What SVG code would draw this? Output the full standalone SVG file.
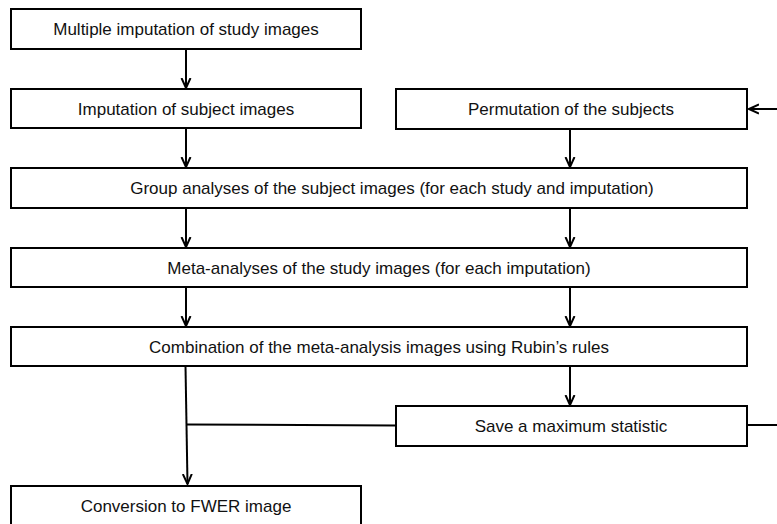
<svg xmlns="http://www.w3.org/2000/svg" width="777" height="524" viewBox="0 0 777 524">
<style>
.box{fill:#fff;stroke:#000;stroke-width:2}
.t{font-family:"Liberation Sans",Arial,sans-serif;font-size:17px;fill:#111;text-anchor:middle}
.c{stroke:#000;stroke-width:2;fill:none}
</style>
<defs>
<marker id="ah" markerWidth="12" markerHeight="12" viewBox="0 0 12 12" refX="10" refY="6" orient="auto" markerUnits="userSpaceOnUse">
<polyline points="0,1.5 10,6 0,10.5" fill="none" stroke="#000" stroke-width="2"/>
</marker>
</defs>
<rect width="777" height="524" fill="#fff"/>
<g id="connectors">
<line class="c" x1="186" y1="49" x2="186" y2="88" marker-end="url(#ah)"/>
<line class="c" x1="186" y1="128" x2="186" y2="167" marker-end="url(#ah)"/>
<line class="c" x1="570" y1="129" x2="570" y2="167" marker-end="url(#ah)"/>
<line class="c" x1="186" y1="208" x2="186" y2="247" marker-end="url(#ah)"/>
<line class="c" x1="570" y1="208" x2="570" y2="247" marker-end="url(#ah)"/>
<line class="c" x1="186" y1="287" x2="186" y2="326" marker-end="url(#ah)"/>
<line class="c" x1="570" y1="287" x2="570" y2="326" marker-end="url(#ah)"/>
<line class="c" x1="570" y1="366" x2="570" y2="405" marker-end="url(#ah)"/>
<line class="c" x1="185.5" y1="366" x2="187.5" y2="484" marker-end="url(#ah)"/>
<line class="c" x1="187" y1="424.5" x2="396" y2="425.5"/>
<line class="c" x1="747" y1="425" x2="777" y2="425"/>
<line class="c" x1="777" y1="109" x2="749" y2="109" marker-end="url(#ah)"/>
</g>
<g id="n1"><rect class="box" x="11" y="9" width="350" height="40"/><text class="t" x="186" y="35">Multiple imputation of study images</text></g>
<g id="n2"><rect class="box" x="11" y="89" width="350" height="39"/><text class="t" x="186" y="115">Imputation of subject images</text></g>
<g id="n3"><rect class="box" x="396" y="89" width="351" height="40"/><text class="t" x="571" y="115">Permutation of the subjects</text></g>
<g id="n4"><rect class="box" x="11" y="168" width="736" height="40"/><text class="t" x="392" y="194">Group analyses of the subject images (for each study and imputation)</text></g>
<g id="n5"><rect class="box" x="11" y="248" width="736" height="39"/><text class="t" x="379" y="274">Meta-analyses of the study images (for each imputation)</text></g>
<g id="n6"><rect class="box" x="11" y="327" width="736" height="39"/><text class="t" x="379" y="353">Combination of the meta-analysis images using Rubin’s rules</text></g>
<g id="n7"><rect class="box" x="396" y="406" width="351" height="40"/><text class="t" x="571" y="432">Save a maximum statistic</text></g>
<g id="n8"><rect class="box" x="11" y="486" width="350" height="44"/><text class="t" x="186" y="512">Conversion to FWER image</text></g>
</svg>
